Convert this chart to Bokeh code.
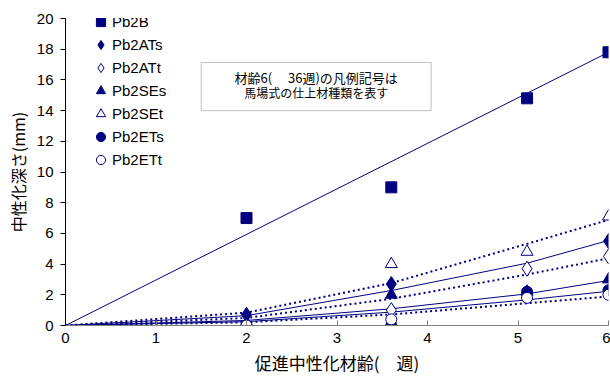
from bokeh.plotting import figure
from bokeh.models import Range1d, Legend, LegendItem, BoxAnnotation, Label, FixedTicker
from bokeh.embed import file_html
from bokeh.resources import INLINE

NAN = float("nan")

# measurement ages (sqrt of weeks)
x_pts = [2.0, 3.6, 5.1, 6.0]

# carbonation depth (mm)
pb2b = [7.0, 9.0, 14.8, 17.8]
pb2ats = [0.7, 2.7, NAN, 5.5]
pb2att = [0.0, 1.0, 3.7, 4.5]
pb2ses = [0.0, 2.0, 2.2, 3.0]
pb2set = [0.0, 4.0, 4.8, 7.1]
pb2ets = [0.0, 0.0, 2.2, 2.3]
pb2ett = [0.0, 0.4, 1.8, 2.0]

# trend lines
trend_b_x = [0.0, 6.0]
trend_b = [0.0, 17.8]
trend_x = [0.0, 2.0, 3.6, 5.1, 6.0]
trend_set = [0.0, 0.84, 2.76, 5.32, 6.88]
trend_ats = [0.0, 0.64, 2.28, 4.06, 5.54]
trend_att = [0.0, 0.49, 1.74, 3.32, 4.38]
trend_ses = [0.0, 0.33, 1.09, 2.06, 2.93]
trend_ets = [0.0, 0.25, 0.87, 1.67, 2.23]
trend_ett = [0.0, 0.21, 0.72, 1.45, 1.89]

x_ticks = [0, 1, 2, 3, 4, 5, 6]
y_ticks = [0, 2, 4, 6, 8, 10, 12, 14, 16, 18, 20]

NAVY = "#000080"
JP = "Noto Sans CJK JP"
LAT = "Liberation Sans"

p = figure(width=610, height=378, output_backend="svg", toolbar_location=None,
           x_range=Range1d(0, 6), y_range=Range1d(0, 20),
           min_border_left=65, min_border_right=2, min_border_top=18, min_border_bottom=53)
p.outline_line_color = None
p.xgrid.visible = False
p.ygrid.visible = False
p.background_fill_color = "white"

# axes
p.xaxis.ticker = FixedTicker(ticks=x_ticks)
p.yaxis.ticker = FixedTicker(ticks=y_ticks)
p.xaxis.minor_tick_line_color = None
p.yaxis.minor_tick_line_color = None
p.xaxis.axis_line_color = "#808080"
p.xaxis.major_tick_line_color = "#808080"
p.xaxis.major_tick_in = 5
p.xaxis.major_tick_out = 0
p.yaxis.axis_line_color = "black"
p.yaxis.major_tick_line_color = "black"
p.yaxis.major_tick_in = 0
p.yaxis.major_tick_out = 5
for ax in (p.xaxis, p.yaxis):
    ax.major_label_text_font = LAT
    ax.major_label_text_font_size = "15px"
    ax.major_label_text_color = "black"
    ax.axis_label_text_font = JP
    ax.axis_label_text_font_style = "normal"
    ax.axis_label_text_color = "black"
p.xaxis.major_label_standoff = 7
p.yaxis.major_label_standoff = 7
p.xaxis.axis_label = "促進中性化材齢(　週)"
p.xaxis.axis_label_text_font_size = "17px"
p.xaxis.axis_label_standoff = 4
p.yaxis.axis_label = "中性化深さ(mm)"
p.yaxis.axis_label_text_font_size = "16px"
p.yaxis.axis_label_standoff = 4

# trend lines
p.line(trend_b_x, trend_b, line_color=NAVY, line_width=1)
p.line(trend_x, trend_ats, line_color=NAVY, line_width=1)
p.line(trend_x, trend_ses, line_color=NAVY, line_width=1)
p.line(trend_x, trend_ets, line_color=NAVY, line_width=1)
p.line(trend_x, trend_set, line_color=NAVY, line_width=2, line_dash="2 3")
p.line(trend_x, trend_att, line_color=NAVY, line_width=2, line_dash="2 3")
p.line(trend_x, trend_ett, line_color=NAVY, line_width=2, line_dash="2 3")

# markers
r_b = p.scatter(x_pts, pb2b, marker="square", size=11, fill_color=NAVY, line_color=NAVY)
r_ats = p.scatter(x_pts, pb2ats, marker="diamond", size=15, fill_color=NAVY, line_color=NAVY)
r_att = p.scatter(x_pts, pb2att, marker="diamond", size=15, fill_color="white", line_color=NAVY)
r_ses = p.scatter(x_pts, pb2ses, marker="triangle", size=12, fill_color=NAVY, line_color=NAVY)
r_set = p.scatter(x_pts, pb2set, marker="triangle", size=12, fill_color="white", line_color=NAVY)
r_ets = p.scatter(x_pts, pb2ets, marker="circle", size=11, fill_color=NAVY, line_color=NAVY)
r_ett = p.scatter(x_pts, pb2ett, marker="circle", size=11, fill_color="white", line_color=NAVY)

legend = Legend(items=[
    LegendItem(label="Pb2B", renderers=[r_b]),
    LegendItem(label="Pb2ATs", renderers=[r_ats]),
    LegendItem(label="Pb2ATt", renderers=[r_att]),
    LegendItem(label="Pb2SEs", renderers=[r_ses]),
    LegendItem(label="Pb2SEt", renderers=[r_set]),
    LegendItem(label="Pb2ETs", renderers=[r_ets]),
    LegendItem(label="Pb2ETt", renderers=[r_ett]),
], location=(24, 154))
legend.border_line_color = None
legend.background_fill_alpha = 0
legend.padding = 0
legend.margin = 0
legend.spacing = 0
legend.glyph_width = 23
legend.glyph_height = 23
legend.label_height = 16
legend.label_standoff = 0
legend.label_text_font = LAT
legend.label_text_font_size = "15px"
legend.label_text_color = "black"
p.add_layout(legend, "center")

# note box
box = BoxAnnotation(left=1.5, right=4.04, top=17.13, bottom=14.0,
                    fill_color="white", fill_alpha=1.0, line_color="#333333", line_width=1)
p.add_layout(box)
p.add_layout(Label(x=2.77, y=16.16, text="材齢6(　 36週)の凡例記号は", text_align="center",
                   text_baseline="middle", text_font=JP, text_font_size="13px", text_color="black"))
p.add_layout(Label(x=2.77, y=15.18, text="馬場式の仕上材種類を表す", text_align="center",
                   text_baseline="middle", text_font=JP, text_font_size="12px", text_color="black"))

open("out.html", "w").write(file_html(p, INLINE))
